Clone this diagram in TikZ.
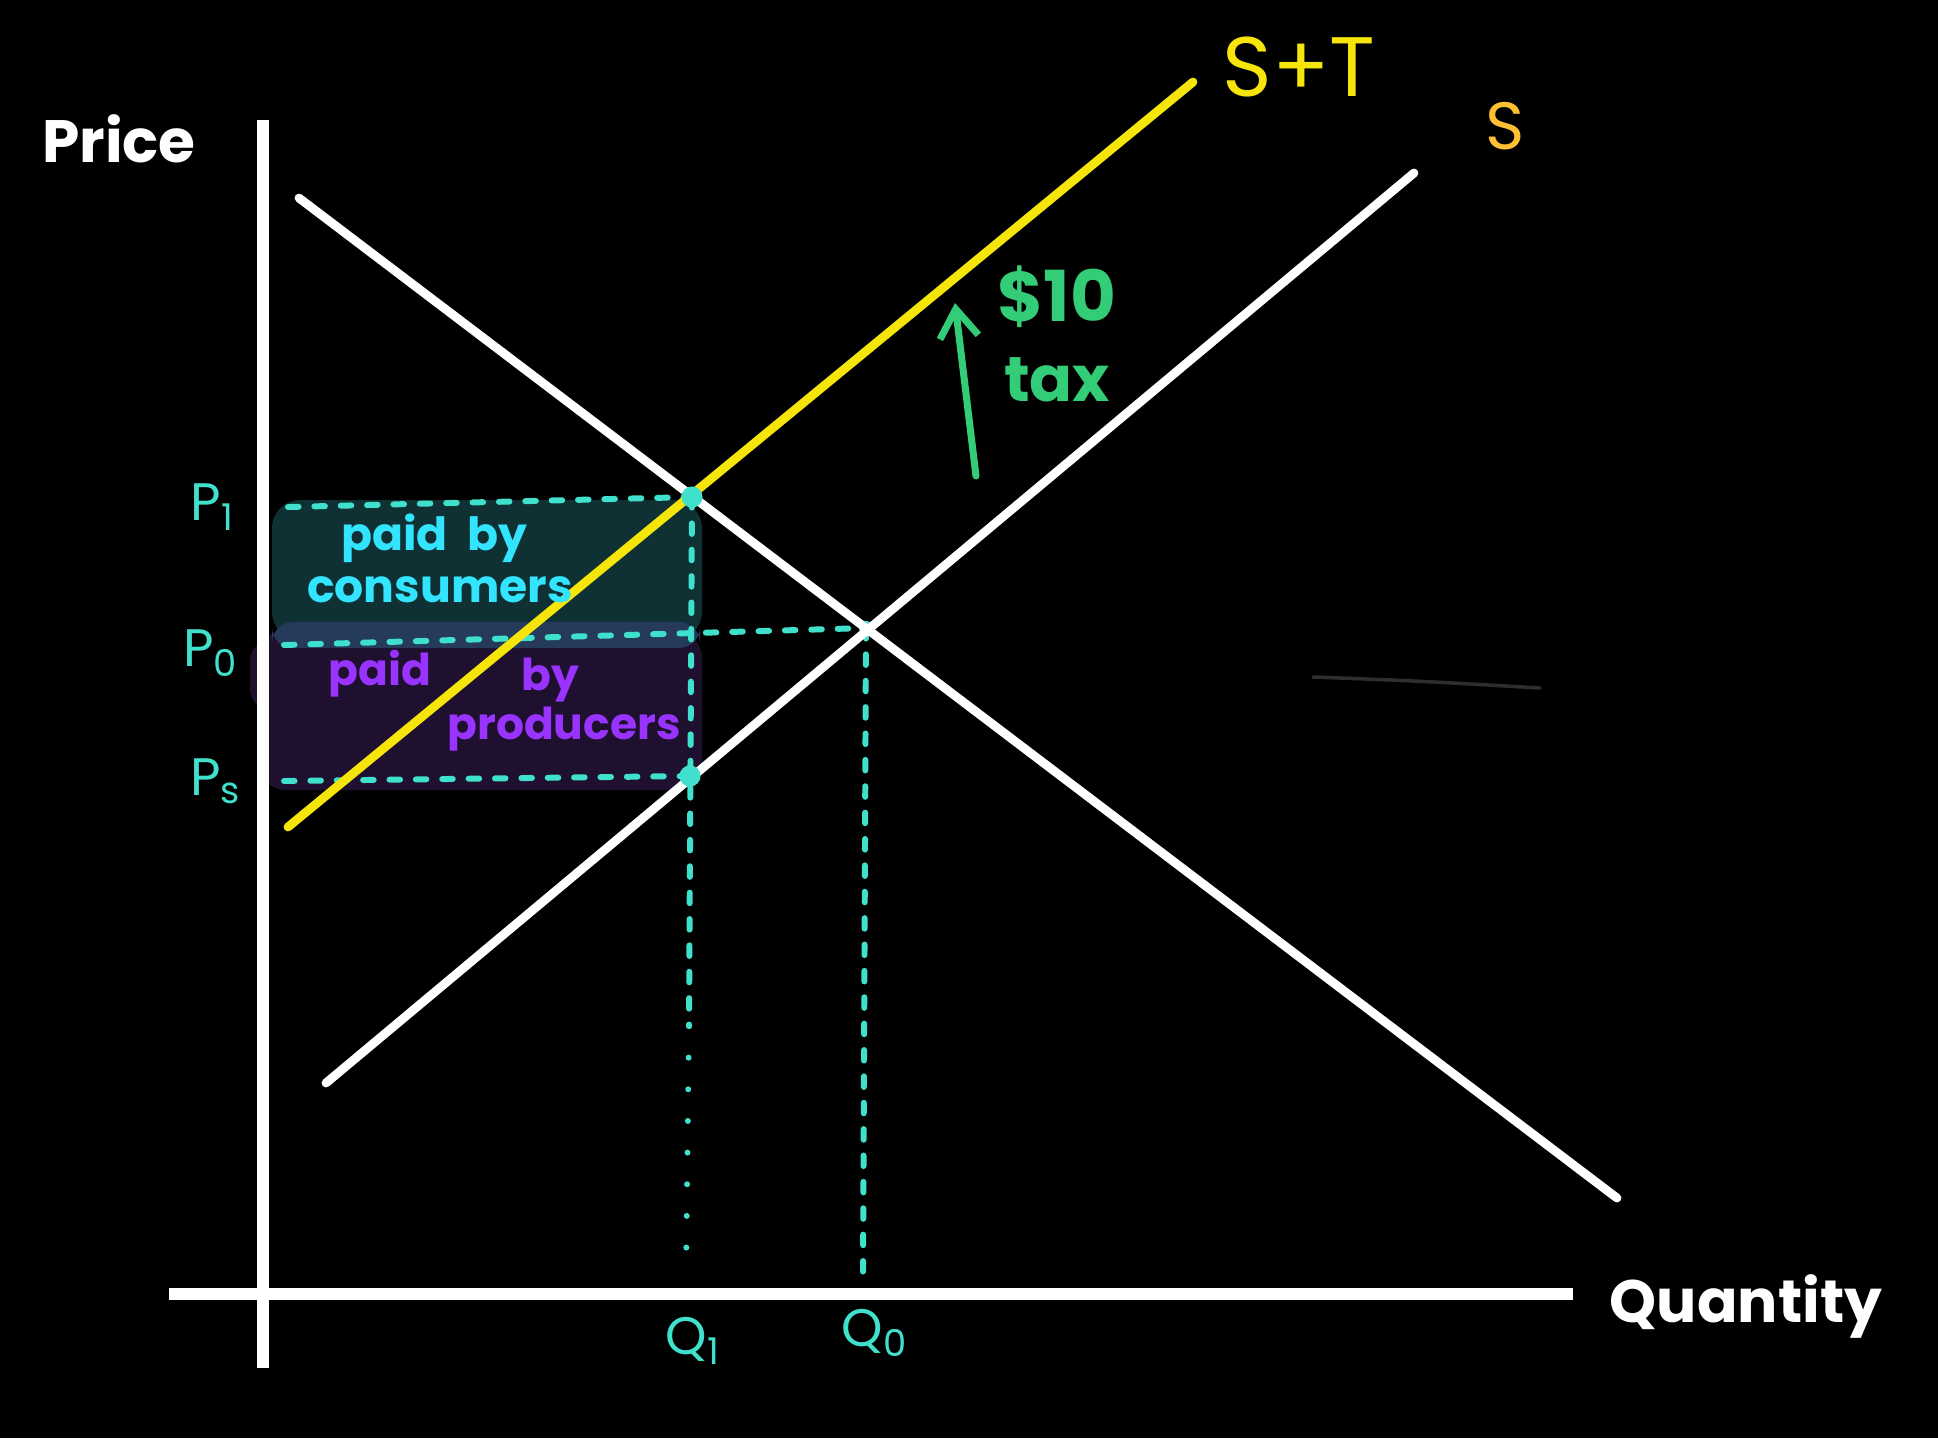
\documentclass[tikz,border=0pt]{standalone}
\usepackage{fontspec}
\setmainfont{Poppins}
\usepackage{tikz}
\usetikzlibrary{arrows.meta, positioning}
\definecolor{txTurq}{HTML}{3FE0CC}
\definecolor{txCyan}{HTML}{33E4FF}
\definecolor{txPurple}{HTML}{9933FF}
\definecolor{txYellow}{HTML}{F5E50A}
\definecolor{txOrange}{HTML}{FFBF33}
\definecolor{txGreen}{HTML}{33CC77}
\definecolor{txTealFill}{HTML}{0F3133}
\definecolor{txPurpleFill}{HTML}{1F1030}
\definecolor{txBand}{HTML}{263A5C}
\definecolor{txFaint}{HTML}{2E2E2E}

\begin{document}
\begin{tikzpicture}[x=0.01cm, y=-0.01cm,
  every node/.style={inner sep=0pt, text=white},
  curve/.style={draw=white, line width=2.5pt, line cap=round},
  axis/.style={draw=white, line width=3.2pt},
  guide/.style={draw=txTurq, line width=1.7pt, line cap=round, dash pattern=on 3pt off 4.5pt},
  dotguide/.style={draw=txTurq, line width=1.7pt, line cap=round, dash pattern=on 0pt off 9pt},
  dotmark/.style={circle, fill=txTurq, minimum size=4pt},
  pricelbl/.style={text=txTurq, font=\fontsize{15}{17}\selectfont},
  qtylbl/.style={text=txTurq, font=\fontsize{15}{17}\selectfont},
  axislbl/.style={font=\fontsize{17}{20}\selectfont\bfseries},
  paidc/.style={text=txCyan, font=\fontsize{13}{15}\selectfont\bfseries},
  paidp/.style={text=txPurple, font=\fontsize{12.5}{15}\selectfont\bfseries}]
  \useasboundingbox (0,0) rectangle (1938,1438);
  \fill[black] (0,0) rectangle (1938,1438);

  \fill[txTealFill, rounded corners=8pt] (272,500) rectangle (702,640);
  \fill[txPurpleFill, rounded corners=8pt] (258,630) rectangle (702,790);
  \fill[txPurpleFill, rounded corners=6pt] (250,640) rectangle (280,710);
  \fill[txBand, rounded corners=6pt] (272,622) rectangle (700,648);
  \draw[txFaint, line width=1pt, line cap=round] (1313,677) .. controls (1420,681) .. (1540,688);

  \coordinate (yTop) at (263,120);
  \coordinate (yBot) at (263,1368);
  \coordinate (xLeft) at (169,1294);
  \coordinate (xRight) at (1573,1294);
  \draw[axis] (yTop) -- (yBot);
  \draw[axis] (xLeft) -- (xRight);

  \node[dotmark] (e1) at (692,497) {};
  \node[dotmark] (e0) at (866,628) {};
  \node[dotmark] (es) at (690,776) {};
  \coordinate (p1L) at (288,507);
  \coordinate (p0L) at (284,645);
  \coordinate (psL) at (284,781);
  \coordinate (q1Mid) at (689,1026);
  \coordinate (q1Bot) at (686,1276);
  \coordinate (q0Bot) at (863,1276);
  \draw[guide] (p1L) -- (e1.center);
  \draw[guide] (p0L) -- (e0.center);
  \draw[guide] (psL) -- (es.center);
  \draw[guide] (e1.center) -- (q1Mid);
  \draw[dotguide] (q1Mid) -- (q1Bot);
  \draw[guide] (e0.center) -- (q0Bot);

  \coordinate (dTop) at (299,198);
  \coordinate (dBot) at (1617,1198);
  \coordinate (sBot) at (326,1083);
  \coordinate (sTop) at (1414,173);
  \coordinate (stBot) at (288,827);
  \coordinate (stTop) at (1193,82);
  \draw[curve] (dTop) -- (dBot);
  \draw[curve] (sBot) -- (sTop);
  \draw[curve, draw=txYellow] (stBot) -- (stTop);
  \fill[txTurq] (e1) circle[radius=3pt] (es) circle[radius=3pt];

  \coordinate (taxFoot) at (976,476);
  \coordinate (taxHead) at (955,303);
  \draw[txGreen, line width=2pt, line cap=round, -{Straight Barb[length=8pt, width=11pt]}] (taxFoot) -- (taxHead);

  \node[axislbl] (price) at (119,139) {Price};
  \node[axislbl] (qty) at (1746,1306) {Quantity};
  \node[text=txYellow, font=\fontsize{24}{28}\selectfont] (stLbl) at (1299,67) {S+T};
  \node[text=txOrange, font=\fontsize{19}{22}\selectfont] (sLbl) at (1505,126) {S};
  \node[text=txGreen, font=\fontsize{20}{24}\selectfont\bfseries] (ten) at (1057,297) {\$10};
  \node[text=txGreen, font=\fontsize{18}{22}\selectfont\bfseries, below=8pt of ten] (tax) {tax};

  \node[pricelbl] (p1) at (213,507) {P\textsubscript{1}};
  \node[pricelbl] (p0) at (211,653) {P\textsubscript{0}};
  \node[pricelbl] (ps) at (216,781) {P\textsubscript{s}};
  \node[qtylbl] (q1) at (693,1341) {Q\textsubscript{1}};
  \node[qtylbl] (q0) at (875,1333) {Q\textsubscript{0}};

  \node[paidc] (cPaid) at (434,538) {paid\ \ by};
  \node[paidc] (cWho) at (440,590) {consumers};
  \node[paidp] (pPaid) at (380,674) {paid};
  \node[paidp] (pBy) at (550,680) {by};
  \node[paidp] (pWho) at (564,729) {producers};
\end{tikzpicture}
\end{document}
